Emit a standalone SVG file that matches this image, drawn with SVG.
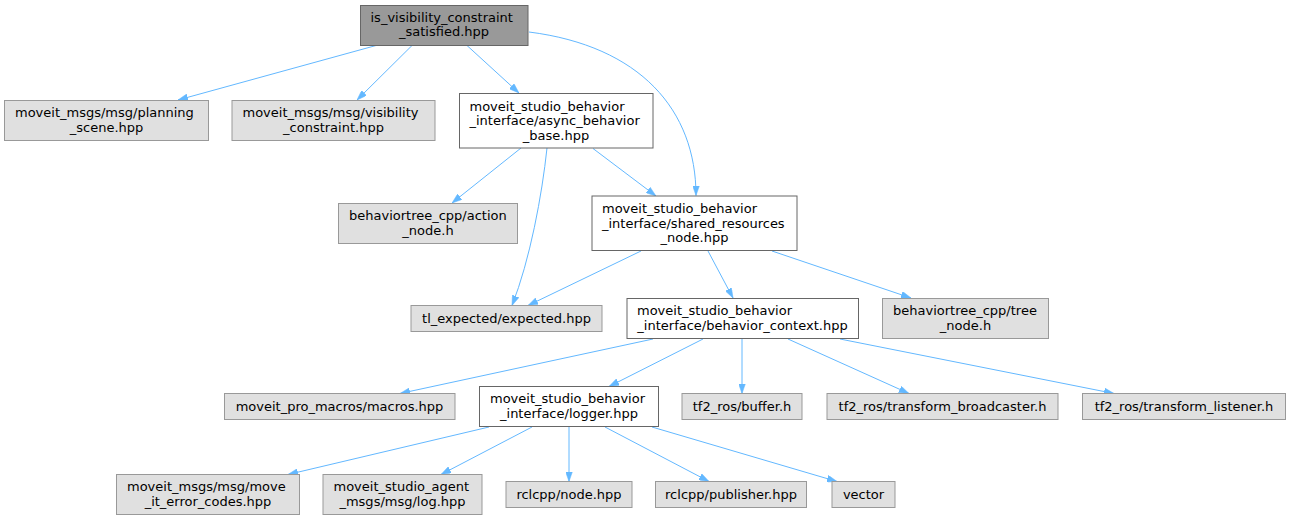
<svg xmlns="http://www.w3.org/2000/svg" width="1291" height="520" viewBox="0 0 1291 520">
<style>
.n rect{stroke-width:1}
.ext rect{fill:#e0e0e0;stroke:#999999}
.loc rect{fill:#ffffff;stroke:#666666}
.cur rect{fill:#999999;stroke:#666666}
text{font-family:"DejaVu Sans","Liberation Sans",sans-serif;font-size:13px;fill:#000000}
.s{text-anchor:start}
.m{text-anchor:middle}
#edges path{fill:none;stroke:#63b8ff;stroke-width:1;marker-end:url(#ah)}
</style>
<defs>
<marker id="ah" viewBox="0 0 10 7" refX="10" refY="3.5" markerWidth="10" markerHeight="7" markerUnits="userSpaceOnUse" orient="auto">
<path d="M0,0 L10,3.5 L0,7 Z" fill="#63b8ff" stroke="#63b8ff" stroke-width="0.5"/>
</marker>
</defs>
<rect width="1291" height="520" fill="#ffffff"/>
<g id="edges">
<path d="M376,45.5 L178,100"/>
<path d="M412,45.5 L357,100"/>
<path d="M467,45.5 L519,93"/>
<path d="M529,32 C640,46 696,110 696,195.5"/>
<path d="M521,148 L452,203"/>
<path d="M547,148 C542,195 530,260 512,305.5"/>
<path d="M593,148.5 L656,196"/>
<path d="M641,251 L528,305.5"/>
<path d="M708,251 L733,298"/>
<path d="M772,251 L911,298"/>
<path d="M653,339 L400,393.5"/>
<path d="M703,339 L609,386.5"/>
<path d="M742,339 L742,393.5"/>
<path d="M788,339 L909,393.5"/>
<path d="M840,339 L1114,393.5"/>
<path d="M489,427 L288,474.5"/>
<path d="M532,427 L441,474.5"/>
<path d="M569,427 L569,481.5"/>
<path d="M605,427 L709,481.5"/>
<path d="M652,427 L837,481.5"/>
</g>
<g id="node1" class="n cur"><rect x="360.5" y="5.5" width="167.5" height="40"/>
<text class="s" x="370.5" y="21.5">is_visibility_constraint</text>
<text class="m" x="444" y="36">_satisfied.hpp</text></g>
<g id="node2" class="n ext"><rect x="4.5" y="100.5" width="204" height="40"/>
<text class="s" x="15" y="117">moveit_msgs/msg/planning</text>
<text class="m" x="106.5" y="131.5">_scene.hpp</text></g>
<g id="node3" class="n ext"><rect x="232" y="100.5" width="203" height="40"/>
<text class="s" x="242.5" y="117">moveit_msgs/msg/visibility</text>
<text class="m" x="333.5" y="131.5">_constraint.hpp</text></g>
<g id="node4" class="n loc"><rect x="459.5" y="93.5" width="193.5" height="54.5"/>
<text class="s" x="469.5" y="110.5">moveit_studio_behavior</text>
<text class="s" x="469.5" y="125">_interface/async_behavior</text>
<text class="m" x="556" y="139.5">_base.hpp</text></g>
<g id="node5" class="n ext"><rect x="338.5" y="203.5" width="179" height="40"/>
<text class="s" x="349" y="220">behaviortree_cpp/action</text>
<text class="m" x="428" y="234.5">_node.h</text></g>
<g id="node6" class="n loc"><rect x="592" y="196" width="205" height="54.5"/>
<text class="s" x="602" y="213">moveit_studio_behavior</text>
<text class="s" x="602" y="227.5">_interface/shared_resources</text>
<text class="m" x="694.5" y="242">_node.hpp</text></g>
<g id="node7" class="n ext"><rect x="411" y="305.5" width="191" height="26"/>
<text class="m" x="506.5" y="322.5">tl_expected/expected.hpp</text></g>
<g id="node8" class="n loc"><rect x="627" y="298.5" width="231.5" height="40"/>
<text class="s" x="637" y="315">moveit_studio_behavior</text>
<text class="m" x="742.5" y="329.5">_interface/behavior_context.hpp</text></g>
<g id="node9" class="n ext"><rect x="882.5" y="298.5" width="166" height="40"/>
<text class="s" x="893" y="315">behaviortree_cpp/tree</text>
<text class="m" x="965.5" y="329.5">_node.h</text></g>
<g id="node10" class="n ext"><rect x="224.5" y="393.5" width="230.5" height="26"/>
<text class="m" x="339.5" y="410.5">moveit_pro_macros/macros.hpp</text></g>
<g id="node11" class="n loc"><rect x="479.5" y="386.5" width="179" height="40"/>
<text class="s" x="490" y="403">moveit_studio_behavior</text>
<text class="m" x="569" y="417.5">_interface/logger.hpp</text></g>
<g id="node12" class="n ext"><rect x="682" y="393.5" width="120" height="26"/>
<text class="m" x="742" y="410.5">tf2_ros/buffer.h</text></g>
<g id="node13" class="n ext"><rect x="827" y="393.5" width="231" height="26"/>
<text class="m" x="942.5" y="410.5">tf2_ros/transform_broadcaster.h</text></g>
<g id="node14" class="n ext"><rect x="1082.5" y="393.5" width="203" height="26"/>
<text class="m" x="1184" y="410.5">tf2_ros/transform_listener.h</text></g>
<g id="node15" class="n ext"><rect x="116.5" y="474.5" width="183" height="40"/>
<text class="s" x="127" y="491">moveit_msgs/msg/move</text>
<text class="m" x="208" y="505.5">_it_error_codes.hpp</text></g>
<g id="node16" class="n ext"><rect x="323" y="474.5" width="159" height="40"/>
<text class="s" x="333.5" y="491">moveit_studio_agent</text>
<text class="m" x="402.5" y="505.5">_msgs/msg/log.hpp</text></g>
<g id="node17" class="n ext"><rect x="506" y="481.5" width="126" height="26"/>
<text class="m" x="569" y="498.5">rclcpp/node.hpp</text></g>
<g id="node18" class="n ext"><rect x="655.5" y="481.5" width="151" height="26"/>
<text class="m" x="731" y="498.5">rclcpp/publisher.hpp</text></g>
<g id="node19" class="n ext"><rect x="832" y="481.5" width="63" height="26"/>
<text class="m" x="863.5" y="498.5">vector</text></g>
</svg>
